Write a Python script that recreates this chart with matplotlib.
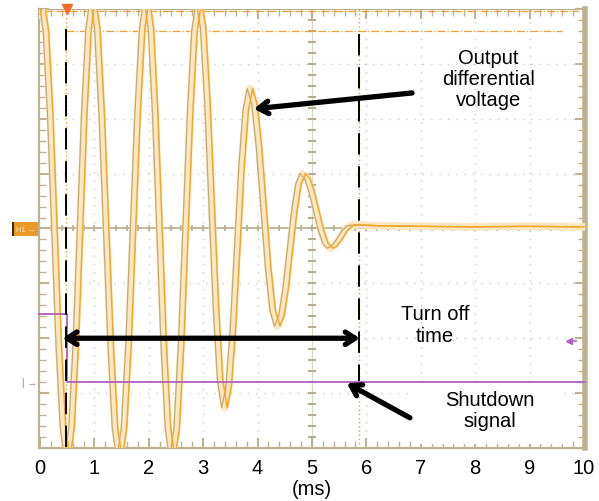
import numpy as np
import matplotlib
matplotlib.use("Agg")
from matplotlib import pyplot as plt
from matplotlib.patches import Rectangle

plt.rcParams['font.family'] = ['Liberation Sans', 'DejaVu Sans']

# Output differential voltage trace, time in ms, amplitude in screen divisions
trace_t = [0.0, 0.08, 0.158, 0.237, 0.315, 0.393, 0.472, 0.55,
           0.628, 0.707, 0.785, 0.863, 0.942, 1.02,
           1.102, 1.183, 1.265, 1.347, 1.428, 1.51,
           1.593, 1.677, 1.76, 1.843, 1.927, 2.01,
           2.088, 2.167, 2.245, 2.323, 2.402, 2.48,
           2.562, 2.643, 2.725, 2.807, 2.888, 2.97,
           3.048, 3.127, 3.205, 3.283, 3.362, 3.44,
           3.518, 3.597, 3.675, 3.753, 3.832, 3.91,
           3.993, 4.077, 4.16, 4.243, 4.327, 4.41,
           4.488, 4.567, 4.645, 4.723, 4.802, 4.88,
           4.963, 5.047, 5.13, 5.213, 5.297, 5.38,
           5.46, 5.55, 5.65, 5.75, 5.9, 6.2, 7.0, 8.0, 9.0, 10.0]
trace_v = [3.9, 4.15, 3.59, 2.06, -0.03, -2.11, -3.64, -4.2,
           -3.64, -2.1, 0.0, 2.1, 3.64, 4.2,
           3.64, 2.1, 0.0, -2.1, -3.64, -4.2,
           -3.64, -2.1, 0.0, 2.1, 3.64, 4.2,
           3.64, 2.1, 0.0, -2.1, -3.64, -4.2,
           -3.64, -2.11, -0.03, 2.06, 3.59, 4.15,
           3.65, 2.30, 0.44, -1.42, -2.77, -3.27,
           -2.88, -1.82, -0.36, 1.10, 2.16, 2.55,
           2.26, 1.47, 0.385, -0.70, -1.49, -1.78,
           -1.59, -1.085, -0.39, 0.305, 0.81, 1.0,
           0.91, 0.66, 0.32, -0.02, -0.27, -0.36,
           -0.32, -0.2, -0.04, 0.05, 0.07, 0.05, 0.04, 0.03, 0.04, 0.03]

# Shutdown signal (purple)
shutdown_t = [-0.02, 0.49, 0.49, 10.02]
shutdown_v = [-1.55, -1.55, -2.8, -2.8]

# cursors (ms)
cursor_t = [0.47, 5.86]
turnoff_y = -2.0
level_v = 3.6

xticks = list(range(0, 11))

fig = plt.figure(figsize=(5.99, 5.02), dpi=100)
ax = fig.add_axes([0.0651, 0.1056, 0.9115, 0.8745])
ax.set_xlim(-0.02, 10.02)
ax.set_ylim(-4, 4)

frame = '#bdb393'
grid_c = '#cdcac0'

# graticule
for gx in range(1, 10):
    ax.axvline(gx, color=grid_c, lw=1.0, ls=(0, (1, 5)), zorder=0)
for gy in range(-3, 4):
    ax.axhline(gy, color=grid_c, lw=1.0, ls=(0, (1, 5)), zorder=0)
ax.axhline(0, color='#b5ae8e', lw=1.2, zorder=1)
ax.axvline(5, color='#dcd8c6', lw=0.8, zorder=1)
ax.plot(np.arange(0.2, 10, 0.2), np.zeros(49), ls='none', marker='|',
        ms=5, mew=1.2, color='#b5ae8e', zorder=1)
ax.plot(np.full(39, 5.0), np.arange(-3.8, 4, 0.2), ls='none', marker='_',
        ms=6, mew=1.5, color='#b5ae8e', zorder=1)

# trigger level and top marker lines (orange dash-dot)
ax.plot([0.05, 9.9], [3.96, 3.96], color='#f0a030', lw=0.9, ls='-.', zorder=2)
ax.plot([cursor_t[0], 9.6], [level_v, level_v], color='#f0a030', lw=0.9,
        ls='-.', zorder=2)
for ct in cursor_t:
    ax.axvline(ct, color='#f0a030', lw=1.0, ls=(0, (1, 2)), zorder=2)
ax.plot([0.5], [4.0], marker='v', ms=7, color='#f06a2a', clip_on=False, zorder=6)

# waveform
t = np.array(trace_t)
v = np.array(trace_v)
ax.plot(t - 0.05, v, color='#fbe7c2', lw=5.5, zorder=3, solid_joinstyle='round')
ax.plot(t - 0.1, v, color='#c4a870', lw=0.9, zorder=3)
ax.plot(t, v, color='#f5a623', lw=1.1, zorder=3)

# shutdown signal
ax.plot(shutdown_t, shutdown_v, color='#b060c0', lw=1.3, zorder=4, clip_on=False)

# black dashed cursor annotations
ax.plot([cursor_t[0], cursor_t[0]], [3.64, -4], color='black', lw=1.4,
        ls=(0, (11, 6)), zorder=5)
ax.plot([cursor_t[1], cursor_t[1]], [3.55, -2.78], color='black', lw=1.4,
        ls=(0, (11, 6)), zorder=5)

# arrows
ax.annotate('', xy=(cursor_t[0] - 0.06, turnoff_y), xytext=(cursor_t[1] + 0.02, turnoff_y),
            arrowprops=dict(arrowstyle='<->,head_length=0.7,head_width=0.45',
                            lw=3.8, color='black', shrinkA=0, shrinkB=0), zorder=7)
ax.annotate('', xy=(3.93, 2.18), xytext=(6.84, 2.47),
            arrowprops=dict(arrowstyle='->,head_length=0.7,head_width=0.45',
                            lw=3.8, color='black', shrinkA=0, shrinkB=0), zorder=7)
ax.add_patch(Rectangle((6.86, -3.93), 2.8, 1.11, facecolor='white',
                       edgecolor='none', zorder=6))
ax.annotate('', xy=(5.64, -2.82), xytext=(6.8, -3.45),
            arrowprops=dict(arrowstyle='->,head_length=0.7,head_width=0.45',
                            lw=3.8, color='black', shrinkA=0, shrinkB=0), zorder=7)

# labels
ax.text(8.24, 2.73, 'Output\ndifferential\nvoltage', ha='center', va='center',
        fontsize=14.5, linespacing=1.15, zorder=8)
ax.text(7.26, -1.75, 'Turn off\ntime', ha='center', va='center',
        fontsize=14.5, linespacing=1.15, zorder=8)
ax.text(8.27, -3.31, 'Shutdown\nsignal', ha='center', va='center',
        fontsize=14.5, linespacing=1.15, zorder=8)

# channel markers outside the screen
ax.add_patch(Rectangle((-0.515, -0.145), 0.48, 0.27, facecolor='#eb9a2a',
                       edgecolor='none', clip_on=False, zorder=6))
ax.add_patch(Rectangle((-0.515, -0.145), 0.04, 0.27, facecolor='#3a2a10',
                       edgecolor='none', clip_on=False, zorder=6))
ax.text(-0.27, -0.01, 'H1 \u2192', color='#fbe6c0', fontsize=5.5, ha='center',
        va='center', clip_on=False, zorder=7)
ax.text(-0.2, -2.8, '| \u2192', color='#b060c0', fontsize=7, ha='center',
        va='center', clip_on=False, zorder=7)
ax.plot([9.72, 9.86], [-2.05, -2.05], color='#b060c0', lw=1.2, zorder=7)
ax.plot([9.72], [-2.05], marker='<', ms=4, color='#b060c0', zorder=7)

# frame and ticks
ax.set_xticks(xticks)
ax.set_xticklabels([str(x) for x in xticks], fontsize=14.5)
ax.set_yticks(range(-4, 5))
ax.set_yticklabels([])
ax.set_xticks(np.arange(0, 10.01, 0.2), minor=True)
ax.set_yticks(np.arange(-4, 4.01, 0.2), minor=True)
ax.tick_params(which='both', direction='in', color=frame, top=True, right=True,
               left=True, bottom=True)
ax.tick_params(which='major', length=7, width=1.5, pad=7)
ax.tick_params(which='minor', length=5, width=1.0)
for side in ['left', 'bottom', 'top']:
    ax.spines[side].set_color(frame)
    ax.spines[side].set_linewidth(1.6)
ax.spines['right'].set_color(frame)
ax.spines['right'].set_linewidth(4)
ax.spines['top'].set_linewidth(0.8)
ax.set_xlabel('(ms)', fontsize=14.5, labelpad=2)

fig.savefig('out.png', dpi=100)
